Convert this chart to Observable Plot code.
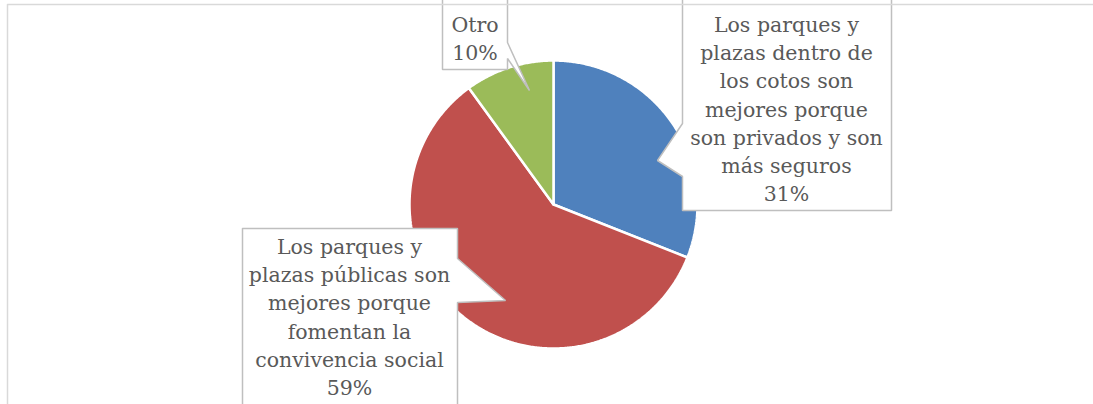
<!DOCTYPE html>
<html>
<head>
<meta charset="utf-8">
<script src="https://cdn.jsdelivr.net/npm/d3@7"></script>
<script src="https://cdn.jsdelivr.net/npm/@observablehq/plot@0.6"></script>
<style>
  html, body { margin: 0; padding: 0; background: #fff; overflow: hidden; }
  #chart svg { display: block; }
</style>
</head>
<body>
<div id="chart"></div>
<script>
// ---- data ----
const categories = [
  "Los parques y plazas dentro de los cotos son mejores porque son privados y son más seguros",
  "Los parques y plazas públicas son mejores porque fomentan la convivencia social",
  "Otro"
];
const values = [31, 59, 10];
const colors = ["#4f81bd", "#c0504d", "#9bbb59"];
const labelLines = [
  ["Los parques y", "plazas dentro de", "los cotos son", "mejores porque", "son privados y son", "más seguros"],
  ["Los parques y", "plazas públicas son", "mejores porque", "fomentan la", "convivencia social"],
  ["Otro"]
];

// ---- layout (pixels) ----
const W = 1093, H = 404;
const CX = 553, CY = 204, R = 144;
const callouts = [
  {x1: 682, x2: 891, y1: -6, y2: 210, side: "left", b1: 123, b2: 176, tx: 657, ty: 160, lx: 786, ly: 107},
  {x1: 242, x2: 457, y1: 228, y2: 430, side: "right", b1: 258, b2: 302, tx: 505, ty: 300, lx: 349, ly: 315},
  {x1: 442, x2: 507, y1: -6, y2: 69, side: "right", b1: 42, b2: 58, tx: 529, ty: 90, lx: 474.5, ly: 36.5}
];

const total = d3.sum(values);
const arcs = d3.pie().sort(null).value(d => d)(values);

// slice polygons from pie angles (clockwise from 12 o'clock)
const slices = arcs.map((a, i) => {
  const pts = [{x: CX, y: CY}];
  const n = Math.max(2, Math.ceil((a.endAngle - a.startAngle) / (Math.PI / 360)));
  for (let k = 0; k <= n; k++) {
    const t = a.startAngle + (a.endAngle - a.startAngle) * k / n;
    pts.push({x: CX + R * Math.sin(t), y: CY - R * Math.cos(t)});
  }
  pts.push({x: CX, y: CY});
  return pts;
});

function calloutPath(c) {
  const p = c.side === "right"
    ? [[c.x1, c.y1], [c.x2, c.y1], [c.x2, c.b1], [c.tx, c.ty], [c.x2, c.b2], [c.x2, c.y2], [c.x1, c.y2], [c.x1, c.y1]]
    : [[c.x1, c.y1], [c.x2, c.y1], [c.x2, c.y2], [c.x1, c.y2], [c.x1, c.b2], [c.tx, c.ty], [c.x1, c.b1], [c.x1, c.y1]];
  return p.map(([x, y]) => ({x, y}));
}

const labels = values.map((v, i) => ({
  text: [...labelLines[i], Math.round(v / total * 100) + "%"].join("\n"),
  x: callouts[i].lx, y: callouts[i].ly
}));

const frame = [{x: 7, y: H + 10}, {x: 7, y: 4}, {x: W + 10, y: 4}];

const marks = [];
slices.forEach((pts, i) => {
  marks.push(Plot.line(pts, {x: "x", y: "y", fill: colors[i], stroke: "white", strokeWidth: 2.5, strokeLinejoin: "miter", curve: "linear"}));
});
callouts.forEach(c => {
  marks.push(Plot.line(calloutPath(c), {x: "x", y: "y", fill: "white", stroke: "#bfbfbf", strokeWidth: 1.5, strokeLinejoin: "miter", curve: "linear"}));
});
marks.push(Plot.line(frame, {x: "x", y: "y", stroke: "#d9d9d9", strokeWidth: 1.5, curve: "linear"}));
marks.push(Plot.text(labels, {
  x: "x", y: "y", text: "text",
  fill: "#595959", fontSize: 20.5, lineHeight: 1.37,
  fontFamily: "DejaVu Serif", textAnchor: "middle"
}));

const chart = Plot.plot({
  width: W, height: H,
  margin: 0,
  x: {domain: [0, W], range: [0, W], axis: null},
  y: {domain: [0, H], range: [0, H], axis: null},
  style: {background: "white", overflow: "hidden"},
  marks
});
document.getElementById("chart").append(chart);
</script>
</body>
</html>
